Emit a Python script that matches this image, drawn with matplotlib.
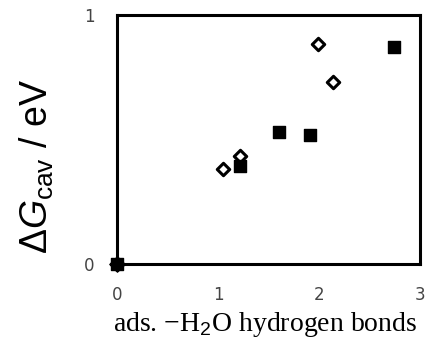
import matplotlib
matplotlib.use("Agg")
import matplotlib.pyplot as plt

# filled squares
sq_x = [0.0, 1.22, 1.60, 1.91, 2.74]
sq_y = [0.0, 0.395, 0.53, 0.52, 0.87]
# open diamonds
dm_x = [0.0, 1.05, 1.22, 1.99, 2.14]
dm_y = [0.0, 0.38, 0.435, 0.885, 0.73]

xticks = [0, 1, 2, 3]
yticks = [0, 1]

plt.rcParams["mathtext.fontset"] = "custom"
plt.rcParams["mathtext.rm"] = "Liberation Sans"
plt.rcParams["mathtext.it"] = "Liberation Sans:italic"

fig = plt.figure(figsize=(4.31, 3.46), dpi=100)
ax = fig.add_axes([117 / 431, 1 - 264 / 346, 303 / 431, 249 / 346])

ax.scatter(dm_x, dm_y, marker="D", s=40, facecolor="white", edgecolor="black",
           linewidth=2.2, zorder=3, clip_on=False)
ax.scatter(sq_x, sq_y, marker="s", s=80, color="black", zorder=4, clip_on=False)
ax.scatter([0], [0], marker="D", s=60, color="black", zorder=5, clip_on=False)

ax.set_xlim(0, 3)
ax.set_ylim(0, 1)
ax.set_xticks(xticks)
ax.set_yticks(yticks)
ax.tick_params(length=0, labelsize=12, labelcolor="#444444")
ax.tick_params(axis="x", pad=16)
ax.tick_params(axis="y", pad=16)
for s in ax.spines.values():
    s.set_linewidth(2.2)

ax.set_ylabel(r"$\Delta G_{\mathrm{cav}}$ / eV", fontsize=27, family="Liberation Sans")
ax.yaxis.set_label_coords(-0.20, 0.39)
ax.set_xlabel("ads. \u2212H$_2$O hydrogen bonds", fontsize=20, family="Liberation Serif")
ax.xaxis.set_label_coords(0.49, -0.185)

fig.savefig("out.png", dpi=100)
